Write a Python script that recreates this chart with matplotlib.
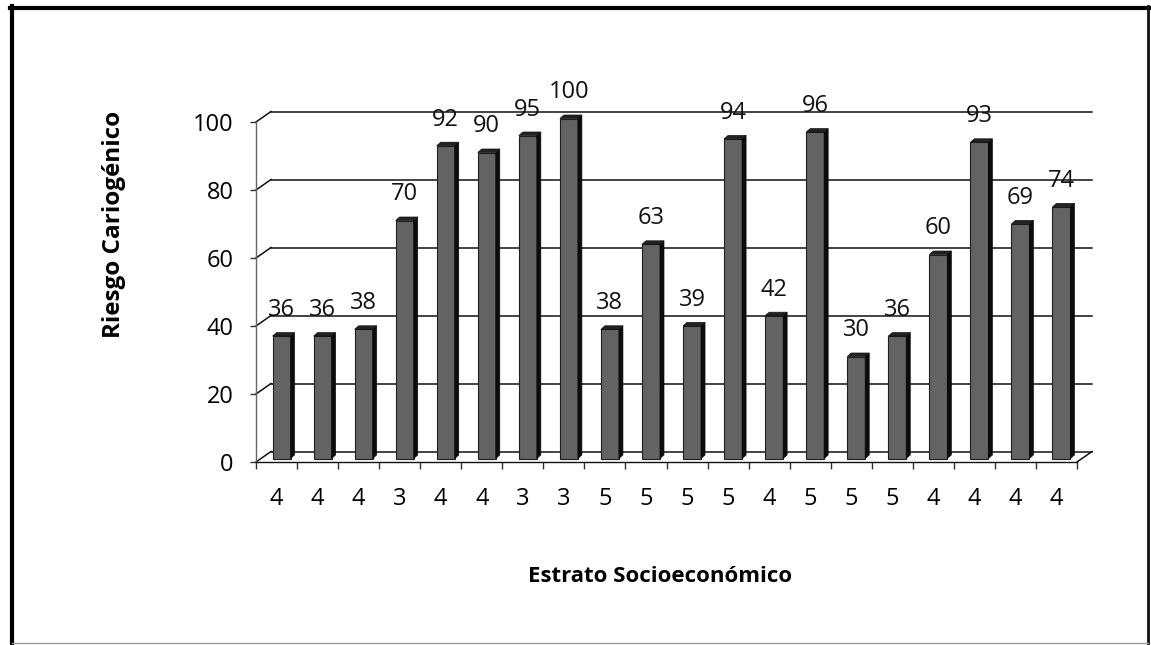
import numpy as np
import matplotlib
matplotlib.use("Agg")
import matplotlib.pyplot as plt
from matplotlib.patches import Polygon, Rectangle
from matplotlib.lines import Line2D

# Riesgo cariogénico por paciente, con su estrato socioeconómico
estrato = ['4', '4', '4', '3', '4', '4', '3', '3', '5', '5',
           '5', '5', '4', '5', '5', '5', '4', '4', '4', '4']
riesgo = [36, 36, 38, 70, 92, 90, 95, 100, 38, 63,
          39, 94, 42, 96, 30, 36, 60, 93, 69, 74]
y_ticks = [0, 20, 40, 60, 80, 100]

W, H = 1151, 645
plt.rcParams['font.family'] = ['Open Sans', 'DejaVu Sans']

fig = plt.figure(figsize=(W / 100, H / 100), dpi=100)
fig.patch.set_facecolor('white')

# axes box in pixels (front plane of the 3D look)
ax_l, ax_r, ax_t, ax_b = 256, 1077, 122, 462
ax = fig.add_axes([ax_l / W, (H - ax_b) / H, (ax_r - ax_l) / W, (ax_b - ax_t) / H])
n = len(riesgo)
ax.set_xlim(0, n)
ax.set_ylim(0, 100)
ax.patch.set_alpha(0)

# pixel -> data conversion
sx = (ax_r - ax_l) / n
sy = (ax_b - ax_t) / 100.0

# depth offsets in pixels
DX, DY = 15, 10.5      # back wall
BX, BY = 5, 3.5        # bar front face
SX, SY = 4, 3.5        # bar depth (side/top)
bar_w = 18 / sx

# back wall gridlines and side wall diagonals
for t in y_ticks:
    ax.add_line(Line2D([DX / sx, n + DX / sx], [t + DY / sy, t + DY / sy],
                       color='#111111', lw=1.1, clip_on=False, zorder=1))
    ax.add_line(Line2D([0, DX / sx], [t, t + DY / sy],
                       color='#111111', lw=1.1, clip_on=False, zorder=1))
# floor edge on the right
ax.add_line(Line2D([n, n + DX / sx], [0, DY / sy],
                   color='#111111', lw=1.1, clip_on=False, zorder=1))

# 3D-looking bars
x = np.arange(n) + 0.5
for xi, v in zip(x, riesgo):
    x0 = xi + BX / sx - bar_w / 2
    x1 = x0 + bar_w
    y0 = BY / sy
    y1 = v + BY / sy
    ddx, ddy = SX / sx, SY / sy
    front = Rectangle((x0, y0), bar_w, v, facecolor='#636363',
                      edgecolor='#1e1e1e', lw=0.8, clip_on=False, zorder=3)
    side = Polygon([(x1, y0), (x1 + ddx, y0 + ddy), (x1 + ddx, y1 + ddy), (x1, y1)],
                   closed=True, facecolor='#0c0c0c', edgecolor='#0c0c0c',
                   lw=0.5, clip_on=False, zorder=3)
    top = Polygon([(x0, y1), (x1, y1), (x1 + ddx, y1 + ddy), (x0 + ddx, y1 + ddy)],
                  closed=True, facecolor='#222222', edgecolor='#111111',
                  lw=0.5, clip_on=False, zorder=3)
    ax.add_patch(front)
    ax.add_patch(side)
    ax.add_patch(top)
    ax.text(xi + BX / sx, y1 + 26 / sy, str(v), ha='center', va='center',
            fontsize=17, color='#111111', zorder=4, clip_on=False)

# axes styling
for s in ['top', 'right']:
    ax.spines[s].set_visible(False)
ax.spines['left'].set_color('#666666')
ax.spines['left'].set_linewidth(1.0)
ax.spines['bottom'].set_color('#111111')
ax.spines['bottom'].set_linewidth(1.0)

ax.set_yticks(y_ticks)
ax.set_yticklabels([str(t) for t in y_ticks])
ax.tick_params(axis='y', direction='out', length=4, width=1, color='#333333',
               labelsize=17, pad=12)
ax.set_xticks(x)
ax.set_xticklabels(estrato)
ax.set_xticks(np.arange(n + 1), minor=True)
ax.tick_params(axis='x', which='major', length=0, labelsize=17, pad=18)
ax.tick_params(axis='x', which='minor', direction='out', length=5, width=1,
               color='#333333')

fig.text(114 / W, 1 - 224 / H, 'Riesgo Cariogénico', rotation=90,
         ha='center', va='center', fontsize=17.5, fontweight='bold')
fig.text(660 / W, 1 - 577 / H, 'Estrato Socioeconómico',
         ha='center', va='center', fontsize=16, fontweight='bold')

# outer frame
def fig_line(xs, ys, lw, color):
    fig.add_artist(Line2D([a / W for a in xs], [1 - b / H for b in ys],
                          transform=fig.transFigure, color=color, lw=lw))

fig_line([12, 12], [6, 645], 3.0, '#000000')
fig_line([10, 1149], [8, 8], 3.0, '#000000')
fig_line([1148, 1148], [6, 645], 2.0, '#111111')
fig_line([12, 1148], [643, 643], 1.0, '#999999')

fig.savefig('out.png', dpi=100, facecolor='white')
